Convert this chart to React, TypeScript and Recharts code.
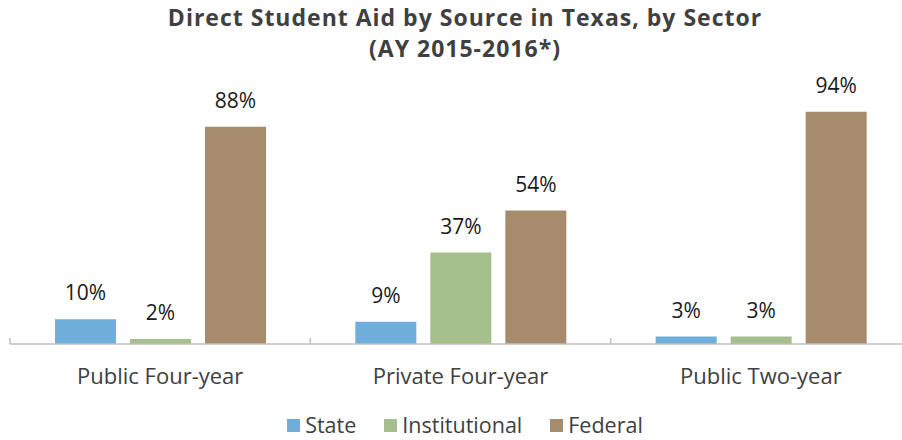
import React from "react";
import { BarChart, Bar, XAxis, YAxis, LabelList } from "recharts";

const categories = ["Public Four-year", "Private Four-year", "Public Two-year"];
const stateValues = [10, 9, 3];
const institutionalValues = [2, 37, 3];
const federalValues = [88, 54, 94];
const seriesNames = ["State", "Institutional", "Federal"];
const titleLines = ["Direct Student Aid by Source in Texas, by Sector", "(AY 2015-2016*)"];

const data = categories.map((c, i) => ({
  name: c,
  State: stateValues[i],
  Institutional: institutionalValues[i],
  Federal: federalValues[i],
}));

const FONT = "'Open Sans', 'Noto Sans', sans-serif";
const W = 920;
const H = 440;
const M = { top: 97, right: 9, bottom: 0, left: 10 };
const XAXIS_H = 96;
const BAND = (W - M.left - M.right) / categories.length;

const Tick = (props: any) => {
  const { x, y, payload, index } = props;
  const axisY = y - 8;
  return (
    <g>
      <line x1={x - BAND / 2} x2={x - BAND / 2} y1={axisY - 6} y2={axisY} stroke="#bfbfbf" strokeWidth={1.5} />
      {index === categories.length - 1 && (
        <line x1={x + BAND / 2} x2={x + BAND / 2} y1={axisY - 6} y2={axisY} stroke="#bfbfbf" strokeWidth={1.5} />
      )}
      <text x={x} y={axisY + 40} textAnchor="middle" fill="#404040" fontSize={22} fontFamily={FONT}>
        {payload.value}
      </text>
    </g>
  );
};

const colors: Record<string, string> = {
  State: "#6fadda",
  Institutional: "#a5bf8c",
  Federal: "#a78b6d",
};

export default function App() {
  return (
    <div style={{ position: "absolute", left: 0, top: 0, width: W, height: H, overflow: "hidden", background: "#fff" }}>
      {titleLines.map((t, i) => (
        <div
          key={i}
          style={{
            position: "absolute",
            left: 0,
            width: 930,
            top: 3 + i * 31,
            height: 28,
            textAlign: "center",
            fontFamily: FONT,
            fontWeight: 700,
            fontSize: 23,
            letterSpacing: 1,
            lineHeight: "28px",
            color: "#404040",
            whiteSpace: "nowrap",
          }}
        >
          {t}
        </div>
      ))}
      <BarChart width={W} height={H} data={data} margin={M} barGap={14} barCategoryGap={45}>
        <YAxis hide domain={[0, 100]} />
        <XAxis
          dataKey="name"
          height={XAXIS_H}
          axisLine={{ stroke: "#bfbfbf", strokeWidth: 1.5 }}
          tickLine={false}
          tick={<Tick />}
          interval={0}
        />
        {seriesNames.map((k) => (
          <Bar key={k} dataKey={k} fill={colors[k]} isAnimationActive={false}>
            <LabelList
              dataKey={k}
              position="top"
              offset={19}
              formatter={(v: any) => `${v}%`}
              fill="#1a1a1a"
              fontSize={21}
              fontFamily={FONT}
            />
          </Bar>
        ))}
      </BarChart>
      <div
        style={{
          position: "absolute",
          left: 0,
          width: 930,
          top: 410,
          display: "flex",
          justifyContent: "center",
          gap: 28,
          fontFamily: FONT,
          fontSize: 21.5,
          lineHeight: "30px",
          color: "#404040",
        }}
      >
        {seriesNames.map((k) => (
          <div key={k} style={{ display: "flex", alignItems: "center" }}>
            <span style={{ display: "inline-block", width: 13, height: 13, background: colors[k], marginRight: 5 }} />
            <span>{k}</span>
          </div>
        ))}
      </div>
    </div>
  );
}
